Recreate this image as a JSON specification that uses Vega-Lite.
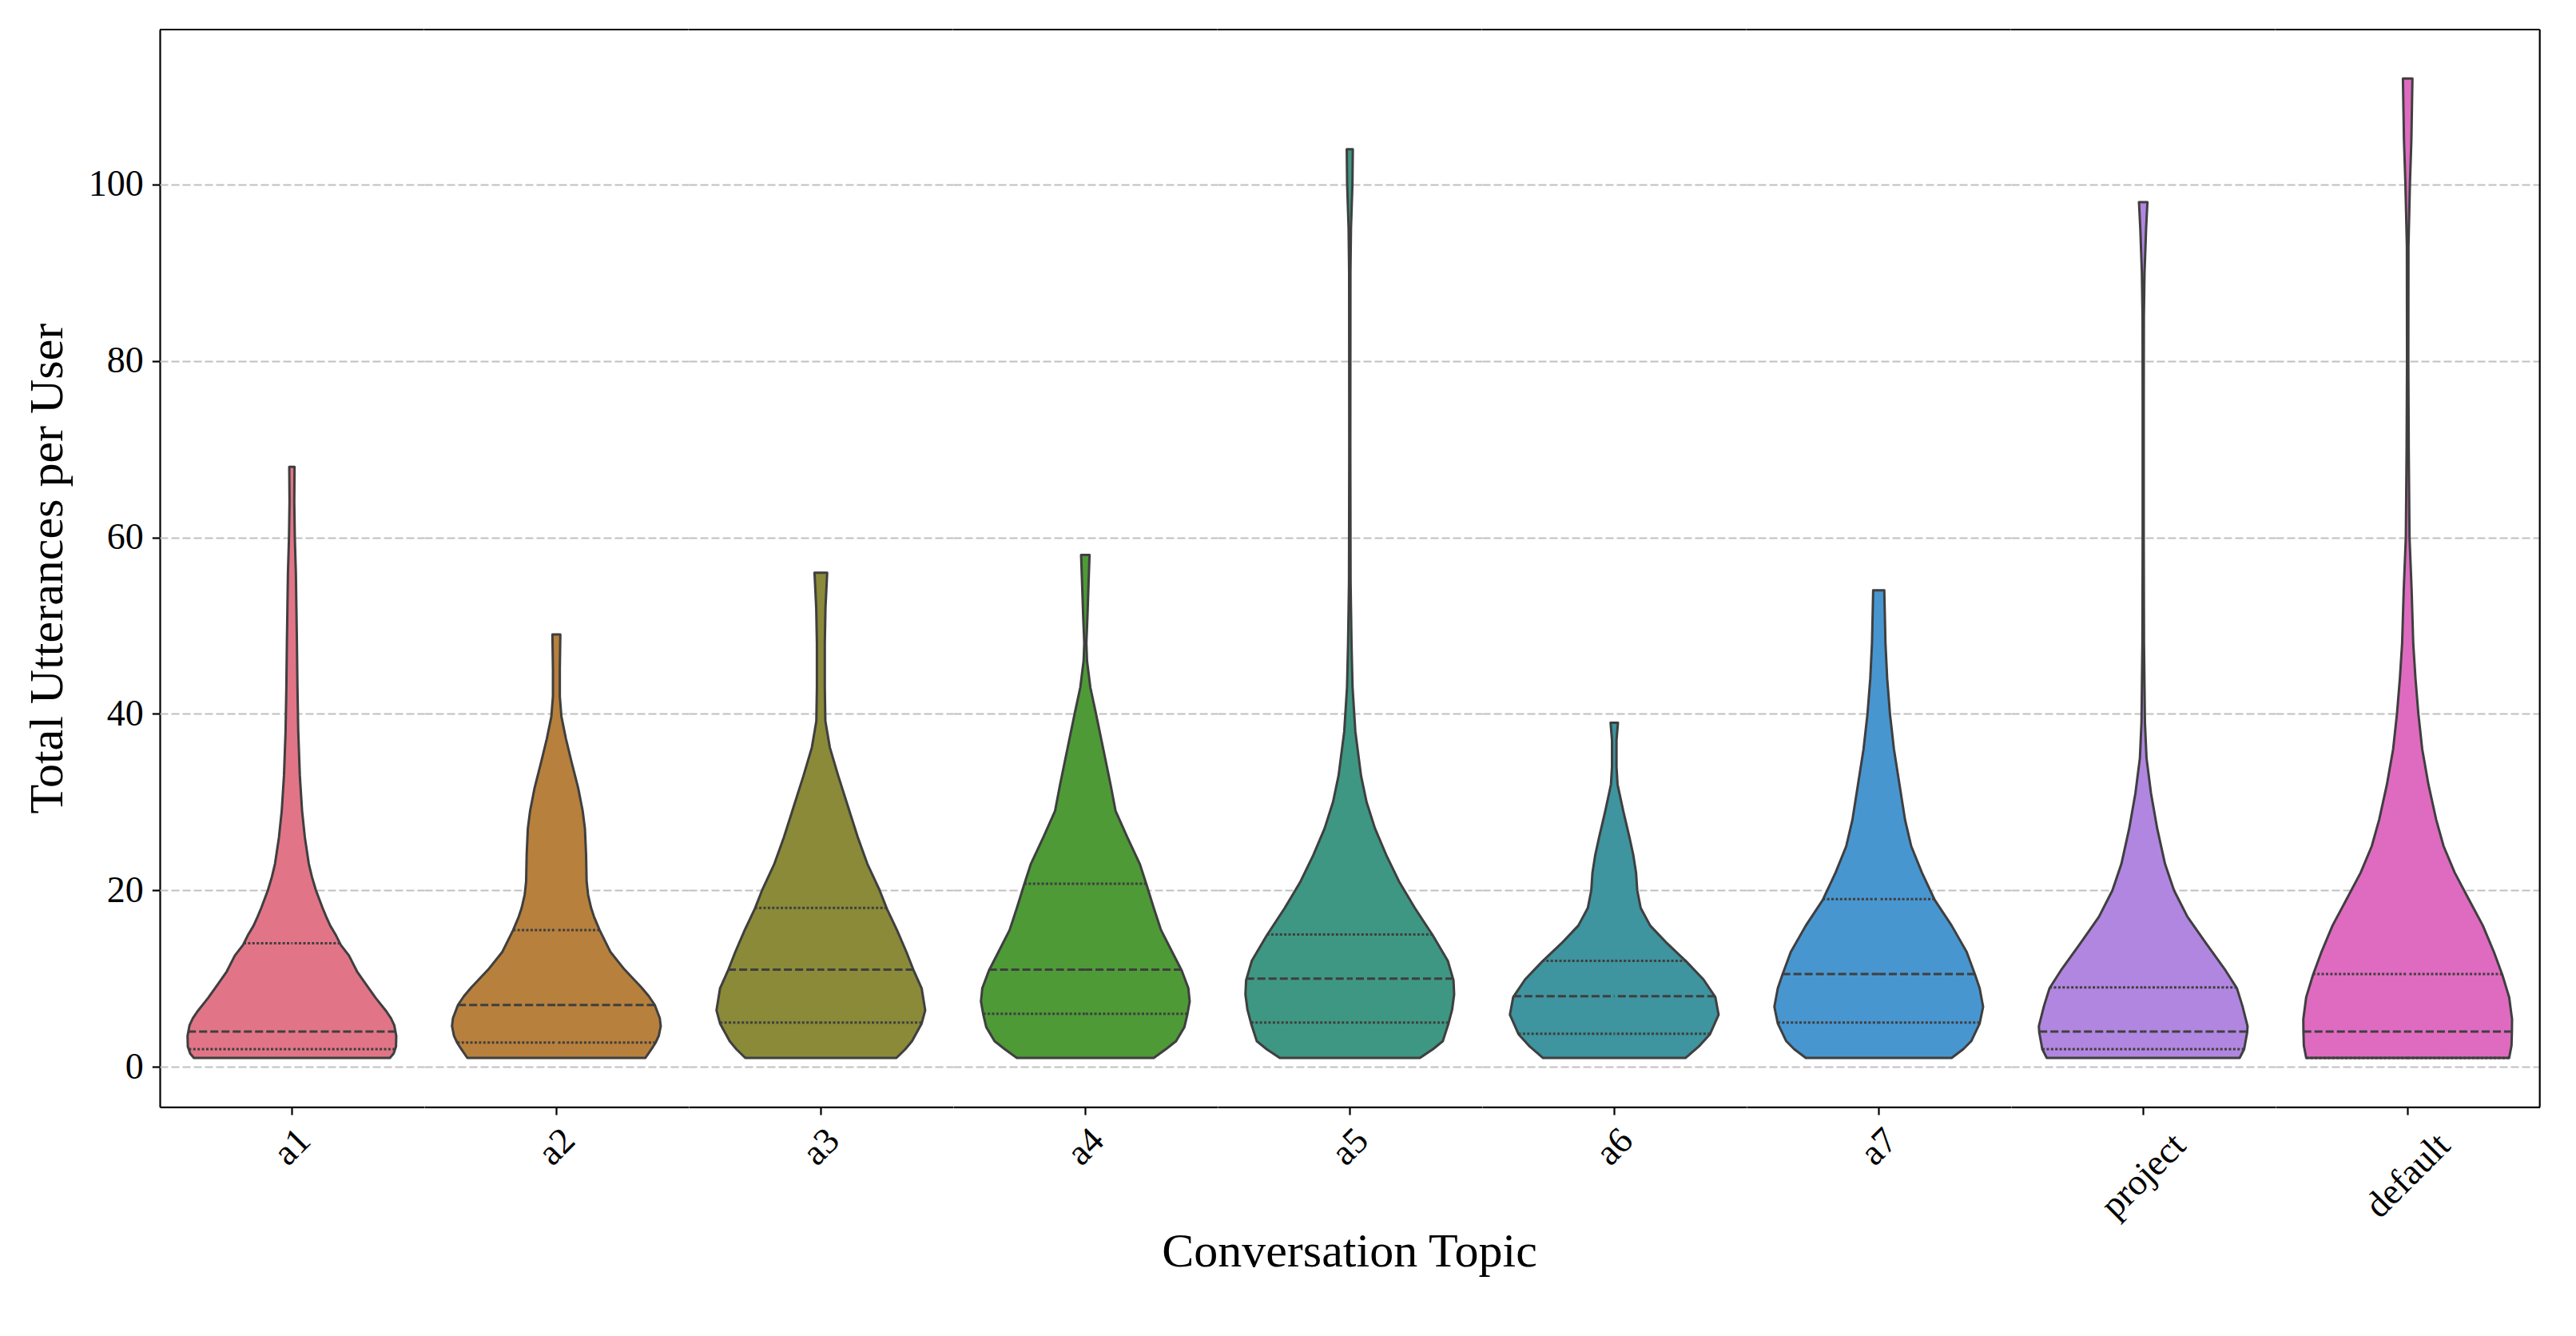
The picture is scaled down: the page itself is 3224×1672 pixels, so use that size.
{
  "$schema": "https://vega.github.io/schema/vega-lite/v6.json",
  "background": "white",
  "padding": {"left": 29, "top": 35, "right": 5, "bottom": 5},
  "data": {"values": [
    {"t": "a1", "k": "o", "v": 1, "w": 0.742}, {"t": "a1", "k": "o", "v": 1.5, "w": 0.77}, {"t": "a1", "k": "o", "v": 2.3, "w": 0.788},
    {"t": "a1", "k": "o", "v": 3.5, "w": 0.79}, {"t": "a1", "k": "o", "v": 4.7, "w": 0.775}, {"t": "a1", "k": "o", "v": 5.5, "w": 0.75},
    {"t": "a1", "k": "o", "v": 6.3, "w": 0.714}, {"t": "a1", "k": "o", "v": 7.8, "w": 0.634}, {"t": "a1", "k": "o", "v": 9.3, "w": 0.563},
    {"t": "a1", "k": "o", "v": 10.8, "w": 0.493}, {"t": "a1", "k": "o", "v": 12.6, "w": 0.432}, {"t": "a1", "k": "o", "v": 13.8, "w": 0.37},
    {"t": "a1", "k": "o", "v": 15, "w": 0.33}, {"t": "a1", "k": "o", "v": 16, "w": 0.29}, {"t": "a1", "k": "o", "v": 17, "w": 0.26},
    {"t": "a1", "k": "o", "v": 18, "w": 0.232}, {"t": "a1", "k": "o", "v": 20, "w": 0.182}, {"t": "a1", "k": "o", "v": 21.5, "w": 0.152},
    {"t": "a1", "k": "o", "v": 23, "w": 0.128}, {"t": "a1", "k": "o", "v": 26, "w": 0.098}, {"t": "a1", "k": "o", "v": 29, "w": 0.077},
    {"t": "a1", "k": "o", "v": 33, "w": 0.06}, {"t": "a1", "k": "o", "v": 38, "w": 0.048}, {"t": "a1", "k": "o", "v": 43, "w": 0.042},
    {"t": "a1", "k": "o", "v": 48, "w": 0.038}, {"t": "a1", "k": "o", "v": 52, "w": 0.034}, {"t": "a1", "k": "o", "v": 56, "w": 0.03},
    {"t": "a1", "k": "o", "v": 60, "w": 0.022}, {"t": "a1", "k": "o", "v": 64, "w": 0.018}, {"t": "a1", "k": "o", "v": 68, "w": 0.02},
    {"t": "a1", "k": "q", "v": 2, "w": 0.78}, {"t": "a1", "k": "m", "v": 4, "w": 0.787}, {"t": "a1", "k": "q", "v": 14, "w": 0.365},

    {"t": "a2", "k": "o", "v": 1, "w": 0.674}, {"t": "a2", "k": "o", "v": 2, "w": 0.72}, {"t": "a2", "k": "o", "v": 2.7, "w": 0.75},
    {"t": "a2", "k": "o", "v": 3.5, "w": 0.775}, {"t": "a2", "k": "o", "v": 4.6, "w": 0.79}, {"t": "a2", "k": "o", "v": 5.5, "w": 0.783},
    {"t": "a2", "k": "o", "v": 7, "w": 0.745}, {"t": "a2", "k": "o", "v": 8, "w": 0.7}, {"t": "a2", "k": "o", "v": 9, "w": 0.644},
    {"t": "a2", "k": "o", "v": 11, "w": 0.517}, {"t": "a2", "k": "o", "v": 13, "w": 0.41}, {"t": "a2", "k": "o", "v": 14.5, "w": 0.36},
    {"t": "a2", "k": "o", "v": 15.5, "w": 0.327}, {"t": "a2", "k": "o", "v": 17, "w": 0.285}, {"t": "a2", "k": "o", "v": 18, "w": 0.263},
    {"t": "a2", "k": "o", "v": 19.5, "w": 0.24}, {"t": "a2", "k": "o", "v": 21, "w": 0.229}, {"t": "a2", "k": "o", "v": 24, "w": 0.225},
    {"t": "a2", "k": "o", "v": 27, "w": 0.216}, {"t": "a2", "k": "o", "v": 29, "w": 0.199}, {"t": "a2", "k": "o", "v": 31.6, "w": 0.165},
    {"t": "a2", "k": "o", "v": 34.6, "w": 0.114}, {"t": "a2", "k": "o", "v": 37.2, "w": 0.072}, {"t": "a2", "k": "o", "v": 39.7, "w": 0.038},
    {"t": "a2", "k": "o", "v": 42, "w": 0.026}, {"t": "a2", "k": "o", "v": 45, "w": 0.026}, {"t": "a2", "k": "o", "v": 49, "w": 0.03},
    {"t": "a2", "k": "q", "v": 2.75, "w": 0.75}, {"t": "a2", "k": "m", "v": 7, "w": 0.745}, {"t": "a2", "k": "q", "v": 15.5, "w": 0.327},

    {"t": "a3", "k": "o", "v": 1, "w": 0.572}, {"t": "a3", "k": "o", "v": 2, "w": 0.64}, {"t": "a3", "k": "o", "v": 2.9, "w": 0.69},
    {"t": "a3", "k": "o", "v": 4.9, "w": 0.763}, {"t": "a3", "k": "o", "v": 6.4, "w": 0.79}, {"t": "a3", "k": "o", "v": 8.9, "w": 0.763},
    {"t": "a3", "k": "o", "v": 10.9, "w": 0.703}, {"t": "a3", "k": "o", "v": 13, "w": 0.648}, {"t": "a3", "k": "o", "v": 15.5, "w": 0.576},
    {"t": "a3", "k": "o", "v": 17.9, "w": 0.5}, {"t": "a3", "k": "o", "v": 20, "w": 0.445}, {"t": "a3", "k": "o", "v": 23, "w": 0.352},
    {"t": "a3", "k": "o", "v": 26, "w": 0.28}, {"t": "a3", "k": "o", "v": 29, "w": 0.216}, {"t": "a3", "k": "o", "v": 33, "w": 0.131},
    {"t": "a3", "k": "o", "v": 36.2, "w": 0.068}, {"t": "a3", "k": "o", "v": 39.2, "w": 0.034}, {"t": "a3", "k": "o", "v": 43, "w": 0.03},
    {"t": "a3", "k": "o", "v": 48, "w": 0.03}, {"t": "a3", "k": "o", "v": 52, "w": 0.035}, {"t": "a3", "k": "o", "v": 56, "w": 0.048},
    {"t": "a3", "k": "q", "v": 5, "w": 0.763}, {"t": "a3", "k": "m", "v": 11, "w": 0.703}, {"t": "a3", "k": "q", "v": 18, "w": 0.5},

    {"t": "a4", "k": "o", "v": 1, "w": 0.518}, {"t": "a4", "k": "o", "v": 2, "w": 0.61}, {"t": "a4", "k": "o", "v": 2.9, "w": 0.687},
    {"t": "a4", "k": "o", "v": 4.5, "w": 0.75}, {"t": "a4", "k": "o", "v": 5.9, "w": 0.772}, {"t": "a4", "k": "o", "v": 7.4, "w": 0.79},
    {"t": "a4", "k": "o", "v": 8.9, "w": 0.78}, {"t": "a4", "k": "o", "v": 10.9, "w": 0.73}, {"t": "a4", "k": "o", "v": 13, "w": 0.658},
    {"t": "a4", "k": "o", "v": 15.5, "w": 0.573}, {"t": "a4", "k": "o", "v": 18, "w": 0.518}, {"t": "a4", "k": "o", "v": 20.7, "w": 0.462},
    {"t": "a4", "k": "o", "v": 23, "w": 0.412}, {"t": "a4", "k": "o", "v": 26, "w": 0.318}, {"t": "a4", "k": "o", "v": 29, "w": 0.229},
    {"t": "a4", "k": "o", "v": 32, "w": 0.191}, {"t": "a4", "k": "o", "v": 36, "w": 0.136}, {"t": "a4", "k": "o", "v": 40, "w": 0.081},
    {"t": "a4", "k": "o", "v": 43, "w": 0.038}, {"t": "a4", "k": "o", "v": 46, "w": 0.013}, {"t": "a4", "k": "o", "v": 48, "w": 0.008},
    {"t": "a4", "k": "o", "v": 51, "w": 0.016}, {"t": "a4", "k": "o", "v": 55, "w": 0.025}, {"t": "a4", "k": "o", "v": 58, "w": 0.032},
    {"t": "a4", "k": "q", "v": 6, "w": 0.772}, {"t": "a4", "k": "m", "v": 11, "w": 0.73}, {"t": "a4", "k": "q", "v": 20.75, "w": 0.462},

    {"t": "a5", "k": "o", "v": 1, "w": 0.53}, {"t": "a5", "k": "o", "v": 2, "w": 0.63}, {"t": "a5", "k": "o", "v": 2.9, "w": 0.704},
    {"t": "a5", "k": "o", "v": 4.9, "w": 0.747}, {"t": "a5", "k": "o", "v": 6.5, "w": 0.775}, {"t": "a5", "k": "o", "v": 8.2, "w": 0.79},
    {"t": "a5", "k": "o", "v": 9.8, "w": 0.785}, {"t": "a5", "k": "o", "v": 12, "w": 0.742}, {"t": "a5", "k": "o", "v": 14.9, "w": 0.628},
    {"t": "a5", "k": "o", "v": 18, "w": 0.492}, {"t": "a5", "k": "o", "v": 21, "w": 0.373}, {"t": "a5", "k": "o", "v": 24, "w": 0.276},
    {"t": "a5", "k": "o", "v": 27, "w": 0.191}, {"t": "a5", "k": "o", "v": 30, "w": 0.127}, {"t": "a5", "k": "o", "v": 33, "w": 0.085},
    {"t": "a5", "k": "o", "v": 38, "w": 0.042}, {"t": "a5", "k": "o", "v": 43, "w": 0.021}, {"t": "a5", "k": "o", "v": 48, "w": 0.013},
    {"t": "a5", "k": "o", "v": 55, "w": 0.006}, {"t": "a5", "k": "o", "v": 70, "w": 0.004}, {"t": "a5", "k": "o", "v": 90, "w": 0.005},
    {"t": "a5", "k": "o", "v": 95, "w": 0.009}, {"t": "a5", "k": "o", "v": 100, "w": 0.02}, {"t": "a5", "k": "o", "v": 104, "w": 0.023},
    {"t": "a5", "k": "q", "v": 5, "w": 0.747}, {"t": "a5", "k": "m", "v": 10, "w": 0.784}, {"t": "a5", "k": "q", "v": 15, "w": 0.628},

    {"t": "a6", "k": "o", "v": 1, "w": 0.539}, {"t": "a6", "k": "o", "v": 2.3, "w": 0.64}, {"t": "a6", "k": "o", "v": 3.7, "w": 0.725},
    {"t": "a6", "k": "o", "v": 5.9, "w": 0.79}, {"t": "a6", "k": "o", "v": 7.9, "w": 0.765}, {"t": "a6", "k": "o", "v": 9.9, "w": 0.675},
    {"t": "a6", "k": "o", "v": 11.9, "w": 0.547}, {"t": "a6", "k": "o", "v": 14, "w": 0.399}, {"t": "a6", "k": "o", "v": 16, "w": 0.272},
    {"t": "a6", "k": "o", "v": 18, "w": 0.2}, {"t": "a6", "k": "o", "v": 20, "w": 0.174}, {"t": "a6", "k": "o", "v": 22, "w": 0.165},
    {"t": "a6", "k": "o", "v": 24, "w": 0.144}, {"t": "a6", "k": "o", "v": 26, "w": 0.115}, {"t": "a6", "k": "o", "v": 29, "w": 0.068},
    {"t": "a6", "k": "o", "v": 32, "w": 0.025}, {"t": "a6", "k": "o", "v": 34, "w": 0.017}, {"t": "a6", "k": "o", "v": 37, "w": 0.017},
    {"t": "a6", "k": "o", "v": 39, "w": 0.028},
    {"t": "a6", "k": "q", "v": 3.75, "w": 0.725}, {"t": "a6", "k": "m", "v": 8, "w": 0.765}, {"t": "a6", "k": "q", "v": 12, "w": 0.547},

    {"t": "a7", "k": "o", "v": 1, "w": 0.552}, {"t": "a7", "k": "o", "v": 2, "w": 0.64}, {"t": "a7", "k": "o", "v": 2.9, "w": 0.7},
    {"t": "a7", "k": "o", "v": 4.9, "w": 0.764}, {"t": "a7", "k": "o", "v": 6.8, "w": 0.79}, {"t": "a7", "k": "o", "v": 8.9, "w": 0.764},
    {"t": "a7", "k": "o", "v": 10.4, "w": 0.73}, {"t": "a7", "k": "o", "v": 13, "w": 0.666}, {"t": "a7", "k": "o", "v": 16, "w": 0.552},
    {"t": "a7", "k": "o", "v": 18.9, "w": 0.424}, {"t": "a7", "k": "o", "v": 22, "w": 0.327}, {"t": "a7", "k": "o", "v": 25, "w": 0.246},
    {"t": "a7", "k": "o", "v": 28, "w": 0.199}, {"t": "a7", "k": "o", "v": 32, "w": 0.157}, {"t": "a7", "k": "o", "v": 36, "w": 0.115},
    {"t": "a7", "k": "o", "v": 40, "w": 0.085}, {"t": "a7", "k": "o", "v": 44, "w": 0.064}, {"t": "a7", "k": "o", "v": 48, "w": 0.051},
    {"t": "a7", "k": "o", "v": 52, "w": 0.045}, {"t": "a7", "k": "o", "v": 54, "w": 0.042},
    {"t": "a7", "k": "q", "v": 5, "w": 0.764}, {"t": "a7", "k": "m", "v": 10.5, "w": 0.73}, {"t": "a7", "k": "q", "v": 19, "w": 0.424},

    {"t": "project", "k": "o", "v": 1, "w": 0.73}, {"t": "project", "k": "o", "v": 2, "w": 0.764}, {"t": "project", "k": "o", "v": 3.9, "w": 0.787},
    {"t": "project", "k": "o", "v": 4.6, "w": 0.79}, {"t": "project", "k": "o", "v": 6.9, "w": 0.751}, {"t": "project", "k": "o", "v": 8.9, "w": 0.709},
    {"t": "project", "k": "o", "v": 10.9, "w": 0.624}, {"t": "project", "k": "o", "v": 14, "w": 0.475}, {"t": "project", "k": "o", "v": 17, "w": 0.335},
    {"t": "project", "k": "o", "v": 20, "w": 0.233}, {"t": "project", "k": "o", "v": 23, "w": 0.165}, {"t": "project", "k": "o", "v": 27, "w": 0.106},
    {"t": "project", "k": "o", "v": 31, "w": 0.059}, {"t": "project", "k": "o", "v": 35, "w": 0.025}, {"t": "project", "k": "o", "v": 39, "w": 0.013},
    {"t": "project", "k": "o", "v": 48, "w": 0.006}, {"t": "project", "k": "o", "v": 60, "w": 0.004}, {"t": "project", "k": "o", "v": 75, "w": 0.004},
    {"t": "project", "k": "o", "v": 85, "w": 0.005}, {"t": "project", "k": "o", "v": 90, "w": 0.01}, {"t": "project", "k": "o", "v": 95, "w": 0.022},
    {"t": "project", "k": "o", "v": 98, "w": 0.032},
    {"t": "project", "k": "q", "v": 2, "w": 0.764}, {"t": "project", "k": "m", "v": 4, "w": 0.787}, {"t": "project", "k": "q", "v": 9, "w": 0.709},

    {"t": "default", "k": "o", "v": 1, "w": 0.768}, {"t": "default", "k": "o", "v": 2.4, "w": 0.786}, {"t": "default", "k": "o", "v": 3.9, "w": 0.789},
    {"t": "default", "k": "o", "v": 5.4, "w": 0.79}, {"t": "default", "k": "o", "v": 7.9, "w": 0.768}, {"t": "default", "k": "o", "v": 10.4, "w": 0.717},
    {"t": "default", "k": "o", "v": 13, "w": 0.653}, {"t": "default", "k": "o", "v": 16, "w": 0.569}, {"t": "default", "k": "o", "v": 19, "w": 0.462},
    {"t": "default", "k": "o", "v": 22, "w": 0.356}, {"t": "default", "k": "o", "v": 25, "w": 0.272}, {"t": "default", "k": "o", "v": 28, "w": 0.216},
    {"t": "default", "k": "o", "v": 32, "w": 0.157}, {"t": "default", "k": "o", "v": 36, "w": 0.11}, {"t": "default", "k": "o", "v": 40, "w": 0.081},
    {"t": "default", "k": "o", "v": 44, "w": 0.059}, {"t": "default", "k": "o", "v": 48, "w": 0.042}, {"t": "default", "k": "o", "v": 54, "w": 0.03},
    {"t": "default", "k": "o", "v": 60, "w": 0.014}, {"t": "default", "k": "o", "v": 70, "w": 0.008}, {"t": "default", "k": "o", "v": 80, "w": 0.005},
    {"t": "default", "k": "o", "v": 93, "w": 0.006}, {"t": "default", "k": "o", "v": 100, "w": 0.017}, {"t": "default", "k": "o", "v": 105, "w": 0.028},
    {"t": "default", "k": "o", "v": 112, "w": 0.036},
    {"t": "default", "k": "q", "v": 1, "w": 0.768}, {"t": "default", "k": "m", "v": 4, "w": 0.79}, {"t": "default", "k": "q", "v": 10.5, "w": 0.717}
  ]},
  "facet": {
    "column": {
      "field": "t", "type": "nominal",
      "sort": ["a1", "a2", "a3", "a4", "a5", "a6", "a7", "project", "default"],
      "header": {
        "labels": false,
        "title": "Conversation Topic", "titleOrient": "bottom",
        "titleFont": "Liberation Serif", "titleFontSize": 60, "titleFontWeight": "normal",
        "titleColor": "black", "titlePadding": 142
      }
    }
  },
  "spacing": 0,
  "bounds": "flush",
  "resolve": {"scale": {"x": "independent"}},
  "spec": {
    "width": 330.67,
    "height": 1348.3,
    "layer": [
      {
        "layer": [
          {
            "transform": [{"filter": "datum.k == 'o'"}],
            "mark": {"type": "area", "orient": "horizontal", "stroke": "#3f3f3f", "strokeWidth": 3, "strokeJoin": "round", "fillOpacity": 1},
            "encoding": {
              "y": {"field": "v", "type": "quantitative", "title": "Total Utterances per User",
                    "scale": {"domain": [-4.55, 117.55], "nice": false, "zero": false},
                    "axis": {"values": [0, 20, 40, 60, 80, 100]}},
              "x": {"field": "w", "type": "quantitative", "stack": "center", "impute": null,
                    "scale": {"domain": [-0.105, 0.895], "nice": false, "zero": false}, "axis": null},
              "color": {"field": "t", "type": "nominal", "legend": null,
                "scale": {
                  "domain": ["a1", "a2", "a3", "a4", "a5", "a6", "a7", "project", "default"],
                  "range": ["#e17587", "#b7803d", "#8a8a39", "#4e9a37", "#3e9782", "#3e949f", "#4896d0", "#b186e0", "#df6bc0"]
                }}
            }
          },
          {
            "transform": [{"filter": "datum.k == 'm'"}],
            "mark": {"type": "rule", "stroke": "black", "strokeWidth": 2.2},
            "encoding": {"y": {"datum": 117.55, "type": "quantitative", "title": "Total Utterances per User"}}
          },
          {
            "transform": [{"filter": "datum.k == 'm' && datum.t == 'default'"}],
            "mark": {"type": "rule", "stroke": "black", "strokeWidth": 2.2},
            "encoding": {"x": {"datum": 0.895, "type": "quantitative", "axis": null}}
          }
        ]
      },
      {
        "layer": [
          {
            "transform": [{"filter": "datum.k == 'm'"}],
            "mark": {"type": "rule", "stroke": "#3f3f3f", "strokeWidth": 3, "strokeDash": [10, 4]},
            "encoding": {
              "y": {"field": "v", "type": "quantitative", "title": "Total Utterances per User"},
              "x": {"field": "w", "type": "quantitative", "scale": {"domain": [-1, 1], "nice": false, "zero": false}, "axis": null},
              "x2": {"datum": 0}
            }
          },
          {
            "transform": [{"filter": "datum.k == 'q'"}],
            "mark": {"type": "rule", "stroke": "#3f3f3f", "strokeWidth": 3, "strokeDash": [3, 2.4]},
            "encoding": {
              "y": {"field": "v", "type": "quantitative", "title": "Total Utterances per User"},
              "x": {"field": "w", "type": "quantitative", "scale": {"domain": [-1, 1], "nice": false, "zero": false}, "axis": null},
              "x2": {"datum": 0}
            }
          }
        ]
      },
      {
        "layer": [
          {
            "transform": [{"filter": "datum.k == 'm'"}],
            "mark": {"type": "rule", "stroke": "#3f3f3f", "strokeWidth": 3, "strokeDash": [10, 4]},
            "encoding": {
              "y": {"field": "v", "type": "quantitative", "title": "Total Utterances per User"},
              "x": {"field": "w", "type": "quantitative", "scale": {"domain": [-1, 1], "nice": false, "zero": false, "reverse": true}, "axis": null},
              "x2": {"datum": 0}
            }
          },
          {
            "transform": [{"filter": "datum.k == 'q'"}],
            "mark": {"type": "rule", "stroke": "#3f3f3f", "strokeWidth": 3, "strokeDash": [3, 2.4]},
            "encoding": {
              "y": {"field": "v", "type": "quantitative", "title": "Total Utterances per User"},
              "x": {"field": "w", "type": "quantitative", "scale": {"domain": [-1, 1], "nice": false, "zero": false, "reverse": true}, "axis": null},
              "x2": {"datum": 0}
            }
          }
        ]
      },
      {
        "transform": [{"filter": "datum.k == 'm'"}],
        "mark": {"type": "point", "opacity": 0},
        "encoding": {
          "x": {"field": "t", "type": "nominal", "title": null,
            "axis": {
              "labelAngle": -45, "labelAlign": "center", "labelBaseline": "middle",
              "labelPadding": {"condition": {"test": "length(datum.value) > 2", "value": 76}, "value": 40}
            }}
        }
      }
    ],
    "resolve": {"scale": {"x": "independent"}}
  },
  "config": {
    "view": {"stroke": null},
    "font": "Liberation Serif",
    "axisY": {
      "grid": true, "gridDash": [10, 4], "gridColor": "#c0c0c0", "gridWidth": 2,
      "domainColor": "black", "domainWidth": 2.2,
      "tickColor": "black", "tickWidth": 2.2, "tickSize": 9.7,
      "labelFont": "Liberation Serif", "labelFontSize": 46, "labelColor": "black", "labelPadding": 11,
      "titleFont": "Liberation Serif", "titleFontSize": 60, "titleFontWeight": "normal", "titleColor": "black", "titlePadding": 20
    },
    "axisX": {
      "grid": false,
      "domainColor": "black", "domainWidth": 2.2,
      "tickColor": "black", "tickWidth": 2.2, "tickSize": 9.7,
      "labelFont": "Liberation Serif", "labelFontSize": 46, "labelColor": "black"
    }
  }
}
